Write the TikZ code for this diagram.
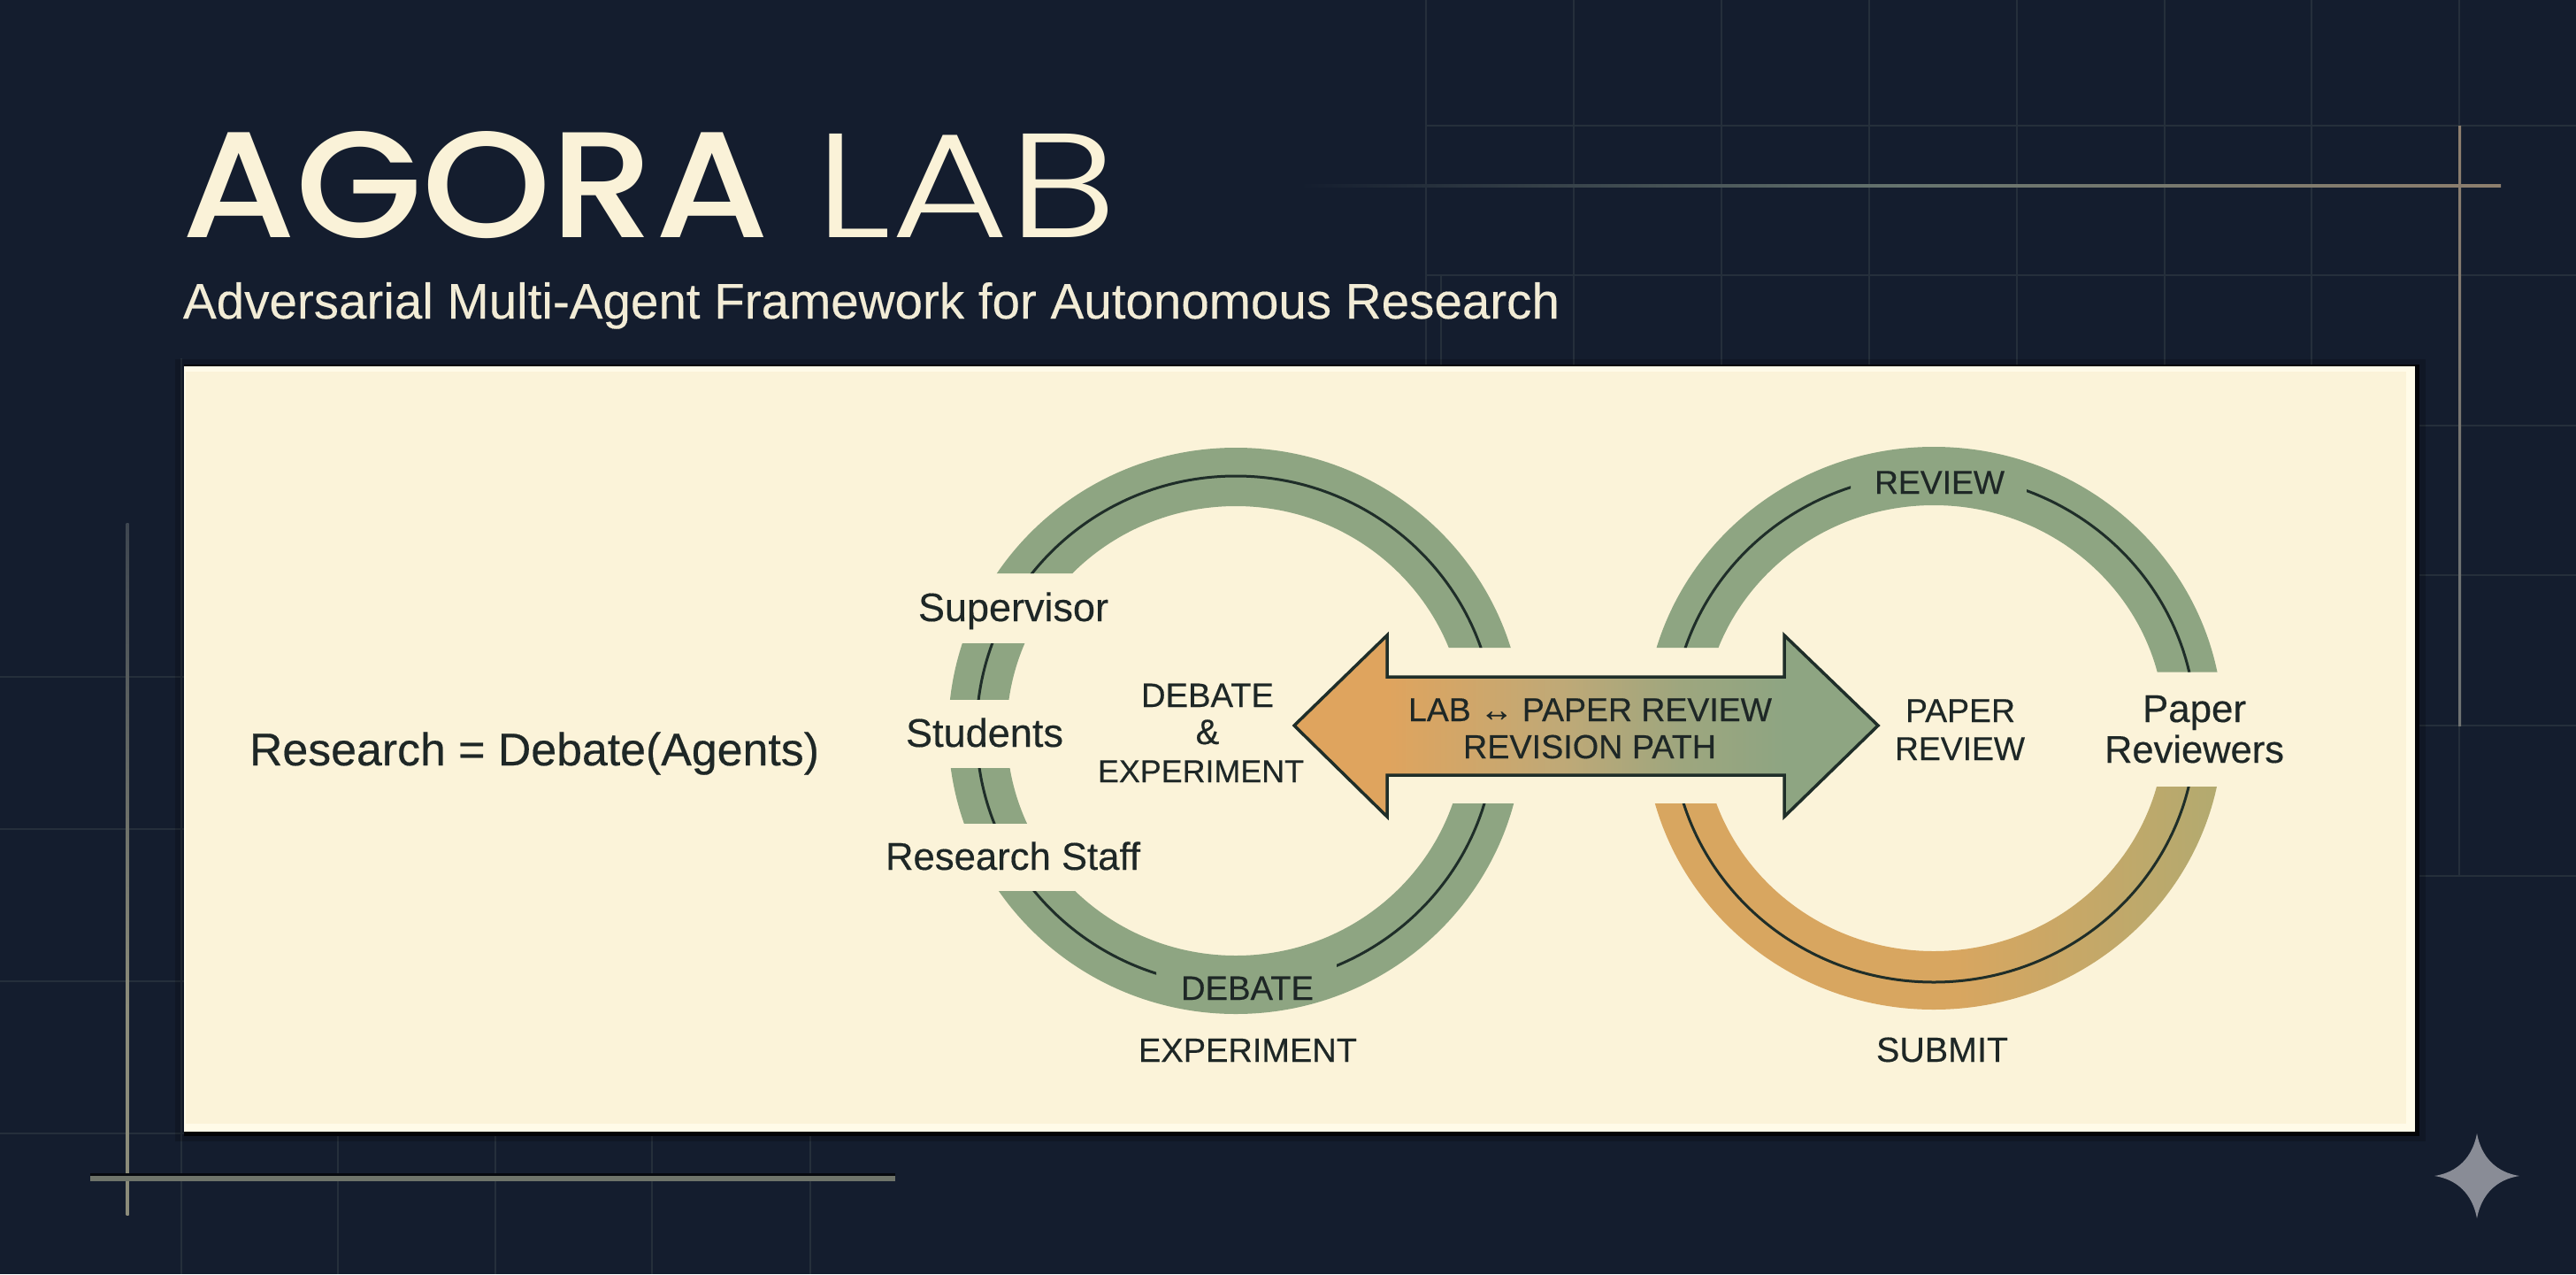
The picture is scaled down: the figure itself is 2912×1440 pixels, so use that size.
\documentclass[tikz,border=0pt]{standalone}
\usepackage{fontspec}
\usepackage{graphicx}
\setmainfont{Liberation Sans}[FakeBold=0.35]
\newfontfamily\subfnt{Liberation Sans}[FakeBold=0.25]
\newfontfamily\ttlb{Poppins Medium}
\newfontfamily\ttll{Poppins Light}
\usetikzlibrary{shadings}
\definecolor{bgnavy}{HTML}{141D2E}
\definecolor{gridc}{HTML}{252F3B}
\definecolor{paper}{HTML}{FBF3D9}
\definecolor{paperedge}{HTML}{FFFBE8}
\definecolor{ringgreen}{HTML}{8EA582}
\definecolor{inkc}{HTML}{1E2726}
\definecolor{linec}{HTML}{1F2E29}
\definecolor{titlec}{HTML}{FAF2D8}
\definecolor{subc}{HTML}{F2ECD6}
\definecolor{starc}{HTML}{898C96}
\definecolor{tanl}{HTML}{8E7F6E}
\definecolor{greyl}{HTML}{6F746A}
\definecolor{sa}{HTML}{DFA45E}
\definecolor{sb}{HTML}{BFA977}
\definecolor{sc}{HTML}{9EA67E}
\definecolor{sd}{HTML}{D8A660}
\definecolor{se}{HTML}{B2AA70}
\definecolor{sf}{HTML}{66746F}
\definecolor{sg}{HTML}{8C8C7A}
\definecolor{sh}{HTML}{3E4650}
\definecolor{si}{HTML}{6F7272}
\pgfdeclarehorizontalshading{arrowsh}{100bp}{color(0bp)=(sa);color(33bp)=(sa);color(48bp)=(sb);color(58bp)=(sc);color(67bp)=(ringgreen);color(100bp)=(ringgreen)}
\pgfdeclarehorizontalshading{ringsh}{100bp}{color(0bp)=(sd);color(52bp)=(sd);color(75bp)=(se);color(100bp)=(se)}
\pgfdeclarehorizontalshading{topsh}{100bp}{color(0bp)=(bgnavy);color(25bp)=(bgnavy);color(50bp)=(sf);color(75bp)=(tanl);color(100bp)=(tanl)}
\pgfdeclareverticalshading{leftsh}{100bp}{color(0bp)=(sg);color(40bp)=(sg);color(75bp)=(sh);color(100bp)=(sh)}
\pgfdeclareverticalshading{rightsh}{100bp}{color(0bp)=(si);color(40bp)=(si);color(75bp)=(tanl);color(100bp)=(tanl)}
\tikzset{
  gridline/.style={draw=gridc,line width=2pt},
  thinarc/.style={draw=linec,line width=3pt},
  ringband/.style={draw=ringgreen,line width=66pt},
  lbl/.style={anchor=base,inner sep=0pt,outer sep=0pt,text=inkc},
  lblw/.style={anchor=base west,inner sep=0pt,outer sep=0pt}
}
\newcommand{\fitw}[2]{\resizebox{#1pt}{!}{\fontsize{40pt}{48pt}\selectfont #2}}
\newcommand{\leftband}{\draw[ringband] (lc) ellipse [x radius=292pt,y radius=287pt];}
\newcommand{\leftthin}{\draw[thinarc] (lc) ellipse [x radius=293pt,y radius=288pt];}
\begin{document}
\begin{tikzpicture}[x=1pt,y=-1pt]
\useasboundingbox (0,0) rectangle (2912,1440);
\fill[bgnavy] (0,0) rectangle (2912,1440);
% grid
\foreach \gx in {1612,1779,1946,2113,2280,2447,2613,2780}{\draw[gridline] (\gx,0) -- (\gx,414);}
\draw[gridline] (1629,311) -- (1629,414);
\draw[gridline] (2780,820) -- (2780,990);
\foreach \gy in {142,311}{\draw[gridline] (1612,\gy) -- (2912,\gy);}
\foreach \gy in {481,650,820,990}{\draw[gridline] (2730,\gy) -- (2912,\gy);}
\foreach \gy in {765,937,1109,1281}{\draw[gridline] (0,\gy) -- (208,\gy);}
\foreach \gx in {205,382,560,737,916}{\draw[gridline] (\gx,1279) -- (\gx,1440);}
\draw[gridline] (205,405) -- (205,1279);
% accent lines
\shade[shading=topsh] (1470,208.5) rectangle (2827,211.5);
\shade[shading=rightsh] (2779,142) rectangle (2782,820);
\shade[shading=leftsh] (142.5,591) rectangle (145.5,1373);
\fill[black!70!bgnavy] (102,1326) rectangle (1012,1331);
\fill[greyl] (102,1329) rectangle (1012,1335);
% panel
\fill[black,opacity=.18] (198,406) rectangle (2742,1290);
\fill[black!85!bgnavy] (208,412) rectangle (2735,1284);
\fill[paperedge] (208,414) rectangle (2730,1279);
\fill[paper] (210,420) rectangle (2720,1270);
% left ring
\coordinate (lc) at (1397,826);
\coordinate (rc) at (2186,823);
\begin{scope}
\clip (1000,400) -- (1397,400) -- (1800,400) -- (1800,732) -- (1397,732) -- (1397,648) -- (1000,648) -- cycle;
\leftband
\leftthin
\end{scope}
\begin{scope}
\clip (1000,727) rectangle (1300,790.5);
\leftband
\leftthin
\end{scope}
\begin{scope}
\clip (1000,868) rectangle (1300,930);
\leftband
\leftthin
\end{scope}
\begin{scope}
\clip (1000,1007) -- (1397,1007) -- (1397,908) -- (1800,908) -- (1800,1250) -- (1000,1250) -- cycle;
\leftband
\clip (1000,900) rectangle (1307,1250) (1511,900) rectangle (1800,1250);
\leftthin
\end{scope}
% right ring
\begin{scope}
\clip (1800,400) -- (2600,400) -- (2600,759.5) -- (2189,759.5) -- (2189,732) -- (1800,732) -- cycle;
\draw[ringband] (rc) ellipse [x radius=294pt,y radius=285pt];
\clip (1800,400) rectangle (2092,800) (2291,400) rectangle (2600,800);
\draw[thinarc] (rc) ellipse [x radius=296pt,y radius=287pt];
\end{scope}
\begin{scope}
\clip (1800,908) -- (2189,908) -- (2189,889) -- (2600,889) -- (2600,1250) -- (1800,1250) -- cycle;
\path[shading=ringsh,even odd rule] (rc) ellipse [x radius=327pt,y radius=318pt] (rc) ellipse [x radius=261pt,y radius=252pt];
\draw[thinarc] (rc) ellipse [x radius=296pt,y radius=287pt];
\end{scope}
% double arrow
\path[shading=arrowsh,draw=linec,line width=3.5pt,line join=miter]
  (1463,820) -- (1568,718) -- (1568,765) -- (2017,765) -- (2017,718) -- (2123,820) -- (2017,923) -- (2017,876) -- (1568,876) -- (1568,923) -- cycle;
% title
\node[lblw,text=titlec] (agora) at (205,268) {\resizebox{664pt}{120pt}{\ttlb AGORA}};
\node[lblw,text=titlec] (lab) at (921,268) {\resizebox{341pt}{117pt}{\ttll LAB}};
\node[lblw,text=subc] (subtitle) at (207,360) {\fitw{1556}{\subfnt Adversarial Multi-Agent Framework for Autonomous Research}};
% labels
\node[lblw,text=inkc] (formula) at (282,865) {\fitw{644}{Research = Debate(Agents)}};
\node[lblw,text=inkc] (sup) at (1038,702) {\fitw{215}{Supervisor}};
\node[lblw,text=inkc] (stu) at (1024,844) {\fitw{178}{Students}};
\node[lblw,text=inkc] (staff) at (1001,983) {\fitw{288}{Research Staff}};
\node[lblw,text=inkc] (cdebate) at (1290,799) {\fitw{150}{DEBATE}};
\node[lbl] (camp) at (1365,841) {\fontsize{40pt}{48pt}\selectfont \&};
\node[lblw,text=inkc] (cexp) at (1241,884) {\fitw{233}{EXPERIMENT}};
\node[lblw,text=inkc] (bdebate) at (1335,1130) {\fitw{150}{DEBATE}};
\node[lblw,text=inkc] (bexp) at (1287,1200) {\fitw{247}{EXPERIMENT}};
\node[lblw,text=inkc] (review) at (2119,558) {\fitw{147}{REVIEW}};
\node[lblw,text=inkc] (ppaper) at (2154,816) {\fitw{124}{PAPER}};
\node[lblw,text=inkc] (preview) at (2142,859) {\fitw{147}{REVIEW}};
\node[lblw,text=inkc] (rpaper) at (2422,816) {\fitw{117}{Paper}};
\node[lblw,text=inkc] (rrev) at (2379,862) {\fitw{203}{Reviewers}};
\node[lblw,text=inkc] (submit) at (2121,1200) {\fitw{149}{SUBMIT}};
\node[lblw,text=inkc] (arrowa) at (1592,815) {\fitw{411}{LAB ↔ PAPER REVIEW}};
\node[lblw,text=inkc] (arrowb) at (1654,857) {\fitw{286}{REVISION PATH}};
% star
\fill[starc] (2800,1281) .. controls (2805,1308) and (2822,1325) .. (2848,1329) .. controls (2822,1333) and (2805,1350) .. (2800,1377) .. controls (2795,1350) and (2778,1333) .. (2752,1329) .. controls (2778,1325) and (2795,1308) .. (2800,1281) -- cycle;
\end{tikzpicture}
\end{document}
